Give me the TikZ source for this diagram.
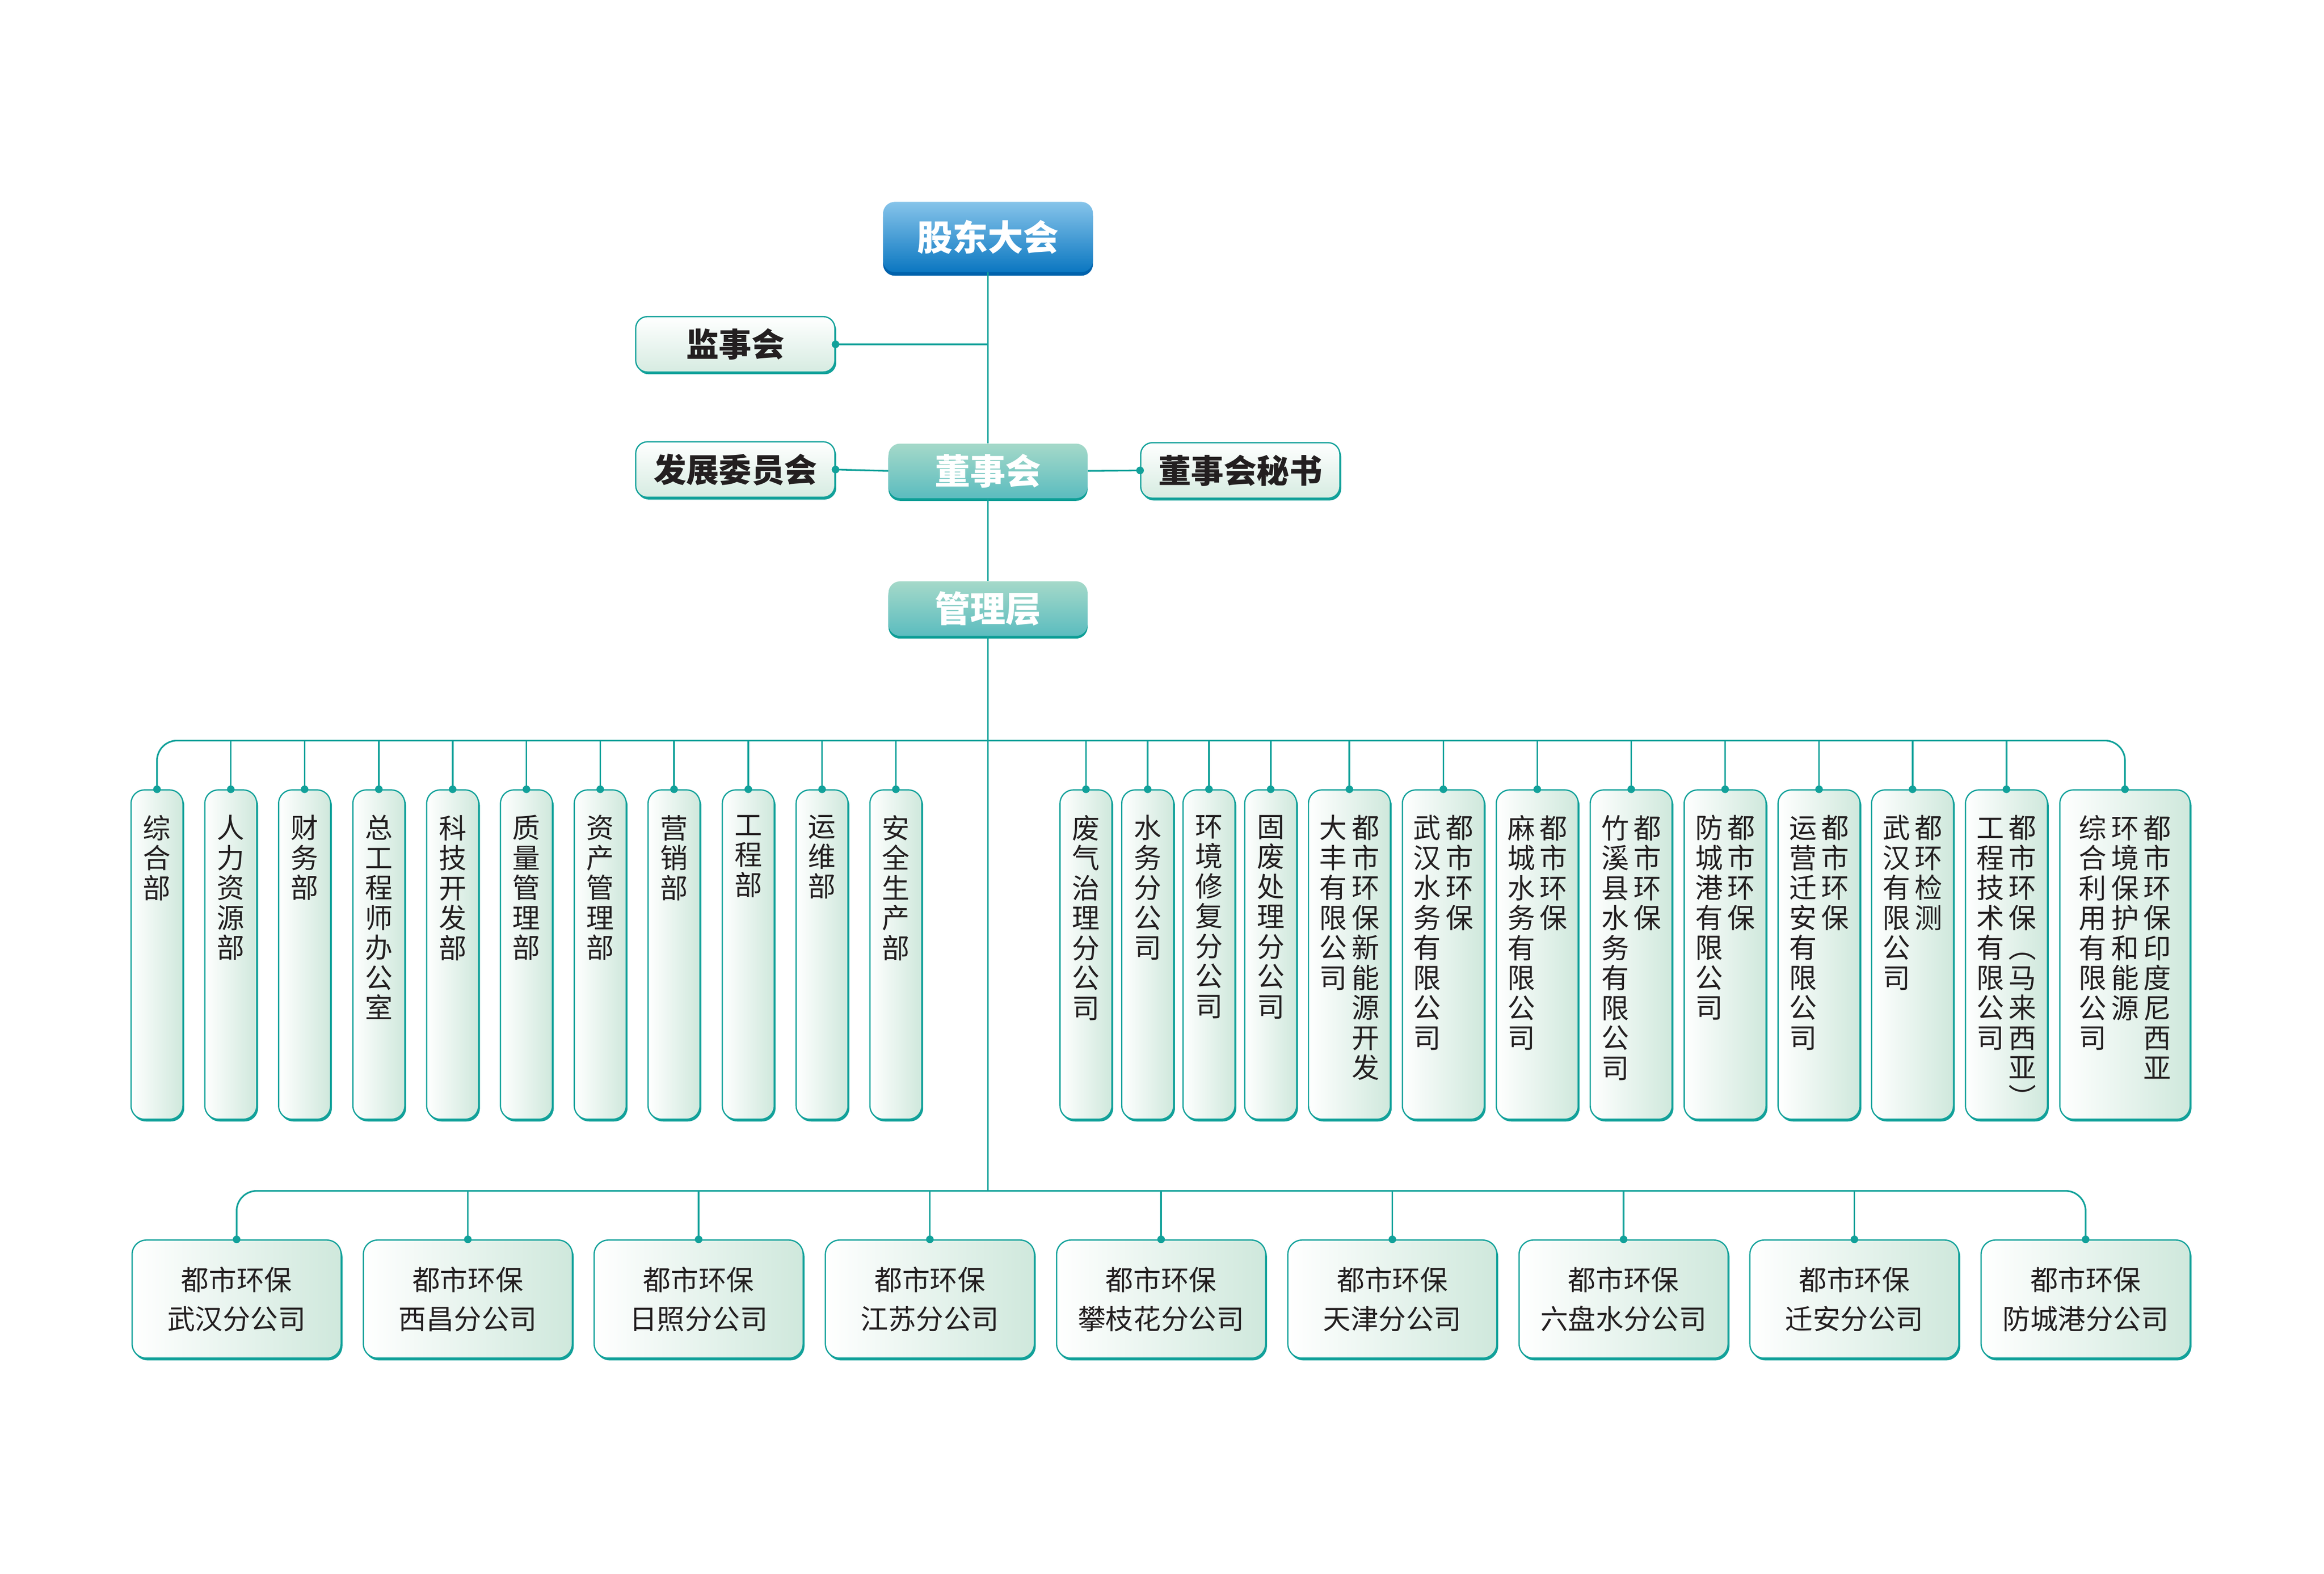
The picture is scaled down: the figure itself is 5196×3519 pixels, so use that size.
\documentclass[tikz,border=0pt]{standalone}
\usepackage{fontspec}
\setmainfont{Noto Sans CJK SC}
\usetikzlibrary{shadows}
\definecolor{lineT}{HTML}{12A19A}
\definecolor{ink}{HTML}{231F20}
\definecolor{paleG}{HTML}{CFE8DC}
\definecolor{blueTop}{HTML}{86C4EA}
\definecolor{blueBot}{HTML}{0B77C1}
\definecolor{blueEdge}{HTML}{0062AC}
\definecolor{tealTop}{HTML}{A5D9C9}
\definecolor{tealBot}{HTML}{5BBCBF}
\definecolor{tealEdge}{HTML}{0C9E96}
\newcommand\vc[1]{\vtop{\let\\\cr\baselineskip=19.06pt\lineskiplimit=-100pt\lineskip=0pt\halign{\hfil##\hfil\cr#1\crcr}}}
\newcommand\cg{\hspace{0.1cm}}
\tikzset{
  conn/.style={draw=lineT, line width=1.05pt},
  edgeT/.style={general shadow={fill=lineT, shadow xshift=0.03cm, shadow yshift=-0.05cm}},
  vbox/.style={draw=lineT, line width=0.8pt, rounded corners=0.3cm, minimum height=7.36cm, inner sep=0pt, left color=white, right color=paleG, edgeT, anchor=north},
  nbox/.style={vbox, minimum width=1.16cm},
  wbox/.style={vbox, minimum width=1.83cm},
  xbox/.style={vbox, minimum width=2.91cm},
  vtext/.style={anchor=north, inner sep=0pt, text=ink, font=\fontsize{17.6}{19.06}\selectfont},
  hbox/.style={draw=lineT, line width=0.8pt, rounded corners=0.32cm, minimum width=4.67cm, minimum height=2.64cm, left color=white, right color=paleG, edgeT, align=center, text=ink, font=\fontsize{17.6}{24.75}\selectfont, inner sep=0pt},
  wtop/.style={draw=lineT, line width=0.8pt, rounded corners=0.26cm, minimum width=4.45cm, minimum height=1.24cm, top color=white, bottom color=paleG!85, edgeT, text=ink, font=\fontsize{20.8}{24}\selectfont\bfseries, inner sep=0pt},
  ctopbase/.style={rounded corners=0.26cm, text=white, font=\fontsize{22.5}{26}\selectfont\bfseries, inner sep=0pt},
  ctop/.style={ctopbase, minimum width=4.45cm, minimum height=1.22cm, top color=tealTop, bottom color=tealBot, general shadow={fill=tealEdge, shadow yshift=-0.06cm}},
  btop/.style={ctopbase, minimum width=4.69cm, minimum height=1.57cm, top color=blueTop, bottom color=blueBot, general shadow={fill=blueEdge, shadow yshift=-0.08cm}},
}
\begin{document}
\begin{tikzpicture}[x=0.01cm, y=-0.01cm]
\useasboundingbox (0,0) rectangle (5196,3519);
% ---- top levels
\node[btop] (gd) at (2209,530) {股东大会};
\node[wtop] (js) at (1644,770) {监事会};
\node[wtop] (fz) at (1644,1050) {发展委员会};
\node[ctop] (ds) at (2209,1053) {董事会};
\node[wtop] (ms) at (2773,1052) {董事会秘书};
\node[ctop] (mg) at (2209,1361) {管理层};
% ---- left departments
\node[nbox] (L1) at (351,1765) {};
\node[nbox] (L2) at (516,1765) {};
\node[nbox] (L3) at (681,1765) {};
\node[nbox] (L4) at (847,1765) {};
\node[nbox] (L5) at (1012,1765) {};
\node[nbox] (L6) at (1177,1765) {};
\node[nbox] (L7) at (1342,1765) {};
\node[nbox] (L8) at (1507,1765) {};
\node[nbox] (L9) at (1673,1765) {};
\node[nbox] (L10) at (1838,1765) {};
\node[nbox] (L11) at (2003,1765) {};
\node[vtext] (tL1) at ([yshift=-0.57cm]L1.north) {\vc{综\\合\\部}};
\node[vtext] (tL2) at ([yshift=-0.57cm]L2.north) {\vc{人\\力\\资\\源\\部}};
\node[vtext] (tL3) at ([yshift=-0.57cm]L3.north) {\vc{财\\务\\部}};
\node[vtext] (tL4) at ([yshift=-0.57cm]L4.north) {\vc{总\\工\\程\\师\\办\\公\\室}};
\node[vtext] (tL5) at ([yshift=-0.57cm]L5.north) {\vc{科\\技\\开\\发\\部}};
\node[vtext] (tL6) at ([yshift=-0.57cm]L6.north) {\vc{质\\量\\管\\理\\部}};
\node[vtext] (tL7) at ([yshift=-0.57cm]L7.north) {\vc{资\\产\\管\\理\\部}};
\node[vtext] (tL8) at ([yshift=-0.57cm]L8.north) {\vc{营\\销\\部}};
\node[vtext] (tL9) at ([yshift=-0.57cm]L9.north) {\vc{工\\程\\部}};
\node[vtext] (tL10) at ([yshift=-0.57cm]L10.north) {\vc{运\\维\\部}};
\node[vtext] (tL11) at ([yshift=-0.57cm]L11.north) {\vc{安\\全\\生\\产\\部}};
% ---- right companies
\node[nbox] (R1) at (2428,1765) {};
\node[nbox] (R2) at (2566,1765) {};
\node[nbox] (R3) at (2703,1765) {};
\node[nbox] (R4) at (2841,1765) {};
\node[wbox] (R5) at (3017,1765) {};
\node[wbox] (R6) at (3227,1765) {};
\node[wbox] (R7) at (3437,1765) {};
\node[wbox] (R8) at (3647,1765) {};
\node[wbox] (R9) at (3857,1765) {};
\node[wbox] (R10) at (4067,1765) {};
\node[wbox] (R11) at (4276,1765) {};
\node[wbox] (R12) at (4486,1765) {};
\node[xbox] (R13) at (4751,1765) {};
\node[vtext] (tR1) at ([yshift=-0.57cm]R1.north) {\vc{废\\气\\治\\理\\分\\公\\司}};
\node[vtext] (tR2) at ([yshift=-0.57cm]R2.north) {\vc{水\\务\\分\\公\\司}};
\node[vtext] (tR3) at ([yshift=-0.57cm]R3.north) {\vc{环\\境\\修\\复\\分\\公\\司}};
\node[vtext] (tR4) at ([yshift=-0.57cm]R4.north) {\vc{固\\废\\处\\理\\分\\公\\司}};
\node[vtext] (tR5) at ([yshift=-0.57cm]R5.north) {\vc{大\\丰\\有\\限\\公\\司}\cg\vc{都\\市\\环\\保\\新\\能\\源\\开\\发}};
\node[vtext] (tR6) at ([yshift=-0.57cm]R6.north) {\vc{武\\汉\\水\\务\\有\\限\\公\\司}\cg\vc{都\\市\\环\\保}};
\node[vtext] (tR7) at ([yshift=-0.57cm]R7.north) {\vc{麻\\城\\水\\务\\有\\限\\公\\司}\cg\vc{都\\市\\环\\保}};
\node[vtext] (tR8) at ([yshift=-0.57cm]R8.north) {\vc{竹\\溪\\县\\水\\务\\有\\限\\公\\司}\cg\vc{都\\市\\环\\保}};
\node[vtext] (tR9) at ([yshift=-0.57cm]R9.north) {\vc{防\\城\\港\\有\\限\\公\\司}\cg\vc{都\\市\\环\\保}};
\node[vtext] (tR10) at ([yshift=-0.57cm]R10.north) {\vc{运\\营\\迁\\安\\有\\限\\公\\司}\cg\vc{都\\市\\环\\保}};
\node[vtext] (tR11) at ([yshift=-0.57cm]R11.north) {\vc{武\\汉\\有\\限\\公\\司}\cg\vc{都\\环\\检\\测}};
\node[vtext] (tR12) at ([yshift=-0.57cm]R12.north) {\vc{工\\程\\技\\术\\有\\限\\公\\司}\cg\vc{都\\市\\环\\保\\︵\\马\\来\\西\\亚\\︶}};
\node[vtext] (tR13) at ([yshift=-0.57cm]R13.north) {\vc{综\\合\\利\\用\\有\\限\\公\\司}\cg\vc{环\\境\\保\\护\\和\\能\\源}\cg\vc{都\\市\\环\\保\\印\\度\\尼\\西\\亚}};
% ---- branch offices
\node[hbox] (B1) at (529,2905) {都市环保\\武汉分公司};
\node[hbox] (B2) at (1046,2905) {都市环保\\西昌分公司};
\node[hbox] (B3) at (1562,2905) {都市环保\\日照分公司};
\node[hbox] (B4) at (2079,2905) {都市环保\\江苏分公司};
\node[hbox] (B5) at (2596,2905) {都市环保\\攀枝花分公司};
\node[hbox] (B6) at (3113,2905) {都市环保\\天津分公司};
\node[hbox] (B7) at (3630,2905) {都市环保\\六盘水分公司};
\node[hbox] (B8) at (4146,2905) {都市环保\\迁安分公司};
\node[hbox] (B9) at (4663,2905) {都市环保\\防城港分公司};
% ---- connectors
\coordinate (bus1) at (2209,1656);
\coordinate (bus2) at (2209,2663);
\draw[conn] (gd.south) -- (ds.north);
\draw[conn] (ds.south) -- (mg.north);
\draw[conn] (mg.south) -- (bus2);
\draw[conn] (js.east) -- (js.east -| gd.south);
\draw[conn] (fz.east) -- (ds.west);
\draw[conn] (ds.east) -- (ms.west);
\draw[conn, rounded corners=0.45cm] (L1.north) |- (bus1) -| (R13.north);
\foreach \i in {2,...,11} \draw[conn] (L\i.north) -- (L\i.north |- bus1);
\foreach \i in {1,...,12} \draw[conn] (R\i.north) -- (R\i.north |- bus1);
\draw[conn, rounded corners=0.45cm] (B1.north) |- (bus2) -| (B9.north);
\foreach \i in {2,...,8} \draw[conn] (B\i.north) -- (B\i.north |- bus2);
% ---- dots
\foreach \i in {1,...,11} \fill[lineT] (L\i.north) circle (0.085cm);
\foreach \i in {1,...,13} \fill[lineT] (R\i.north) circle (0.085cm);
\foreach \i in {1,...,9} \fill[lineT] (B\i.north) circle (0.085cm);
\fill[lineT] (js.east) circle (0.085cm);
\fill[lineT] (fz.east) circle (0.085cm);
\fill[lineT] (ms.west) circle (0.085cm);
\end{tikzpicture}
\end{document}
